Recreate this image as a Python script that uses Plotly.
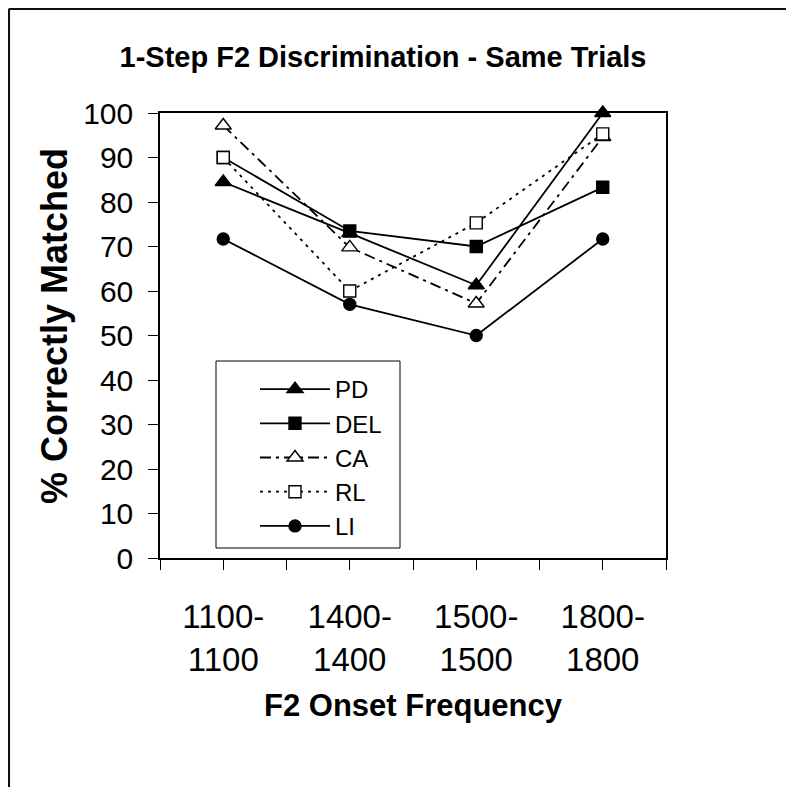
import plotly.graph_objects as go

# categories (F2 onset frequency pairs)
categories = ["1100-<br>1100", "1400-<br>1400", "1500-<br>1500", "1800-<br>1800"]

# % correctly matched per group
pd_vals = [84.5, 73.0, 61.3, 100.0]
del_vals = [90.0, 73.5, 70.0, 83.3]
ca_vals = [97.2, 69.8, 57.2, 94.6]
rl_vals = [90.0, 60.0, 75.3, 95.3]
li_vals = [71.7, 57.0, 50.0, 71.7]

# page has an 8px body margin, so the figure is a bit smaller than the window
OFF = 8
W, H = 794 - OFF, 787 - OFF
L, R, T, B = 152, 128, 105, 229
PW, PH = W - L - R, H - T - B


def px(x):
    # window pixel -> paper x
    return (x - OFF - L) / PW


def py(y):
    # window pixel -> paper y
    return (H - B - (y - OFF)) / PH


FONT = "Liberation Sans, Arial, sans-serif"

series = [
    ("PD", pd_vals, "triangle-up", "black", "solid"),
    ("DEL", del_vals, "square", "black", "solid"),
    ("CA", ca_vals, "triangle-up", "white", "11px,5px,3px,5px"),
    ("RL", rl_vals, "square", "white", "3px,5px"),
    ("LI", li_vals, "circle", "black", "solid"),
]

xs = list(range(len(categories)))
fig = go.Figure()
for name, vals, sym, fill, dash in series:
    fig.add_trace(go.Scatter(
        x=xs, y=vals, name=name, mode="lines+markers", cliponaxis=False,
        line=dict(color="black", width=1.8, dash=dash),
        marker=dict(symbol=sym, size=12 if sym != "triangle-up" else 14,
                    color=fill, line=dict(color="black", width=1.4)),
    ))

fig.update_layout(
    width=W, height=H,
    margin=dict(l=L, r=R, t=T, b=B),
    paper_bgcolor="white", plot_bgcolor="white",
    font=dict(family=FONT, color="black"),
    title=dict(text="<b>1-Step F2 Discrimination - Same Trials</b>",
               font=dict(size=29, family=FONT),
               x=(383 - OFF) / W, xanchor="center",
               y=1 - (57 - OFF) / H, yanchor="middle"),
    legend=dict(x=px(255), y=py(367), xanchor="left", yanchor="top",
                bgcolor="rgba(0,0,0,0)", borderwidth=0,
                font=dict(size=24, family=FONT), tracegroupgap=0,
                itemwidth=70),
    showlegend=True,
)

fig.update_xaxes(
    range=[-0.5, 3.5], tickvals=xs, ticktext=categories,
    showgrid=False, zeroline=False,
    showline=True, mirror=True, linecolor="black", linewidth=1.5,
    ticks="outside", ticklen=10, tickcolor="black", tickwidth=1,
    minor=dict(tick0=0.5, dtick=1, ticks="outside", ticklen=10,
               tickcolor="black", tickwidth=1),
    tickfont=dict(size=33, family=FONT),
    ticklabelstandoff=19,
)
fig.update_yaxes(
    range=[0, 100], dtick=10,
    showgrid=False, zeroline=False,
    showline=True, mirror=True, linecolor="black", linewidth=1.5,
    ticks="outside", ticklen=10, tickcolor="black", tickwidth=1,
    tickfont=dict(size=30, family=FONT),
    ticklabelstandoff=9,
)

fig.add_annotation(text="<b>% Correctly Matched</b>", textangle=-90,
                   xref="paper", yref="paper", x=px(54), y=py(326),
                   xanchor="center", yanchor="middle",
                   showarrow=False, font=dict(size=36, family=FONT))
fig.add_annotation(text="<b>F2 Onset Frequency</b>",
                   xref="paper", yref="paper", x=px(413), y=py(705),
                   xanchor="center", yanchor="middle",
                   showarrow=False, font=dict(size=31, family=FONT))

# legend box
fig.add_shape(type="rect", xref="paper", yref="paper",
              x0=px(216), x1=px(400), y0=py(361), y1=py(548),
              line=dict(color="black", width=1), fillcolor="white",
              layer="below")

# figure frame (left and top edges only)
fx = (0.8 - L) / PW
fy = (H - B - 0.8) / PH
fig.add_shape(type="line", xref="paper", yref="paper",
              x0=fx, x1=fx, y0=fy, y1=py(790),
              line=dict(color="#111", width=2.5))
fig.add_shape(type="line", xref="paper", yref="paper",
              x0=fx, x1=px(800), y0=fy, y1=fy,
              line=dict(color="#111", width=2.5))

fig.write_html("out.html")
